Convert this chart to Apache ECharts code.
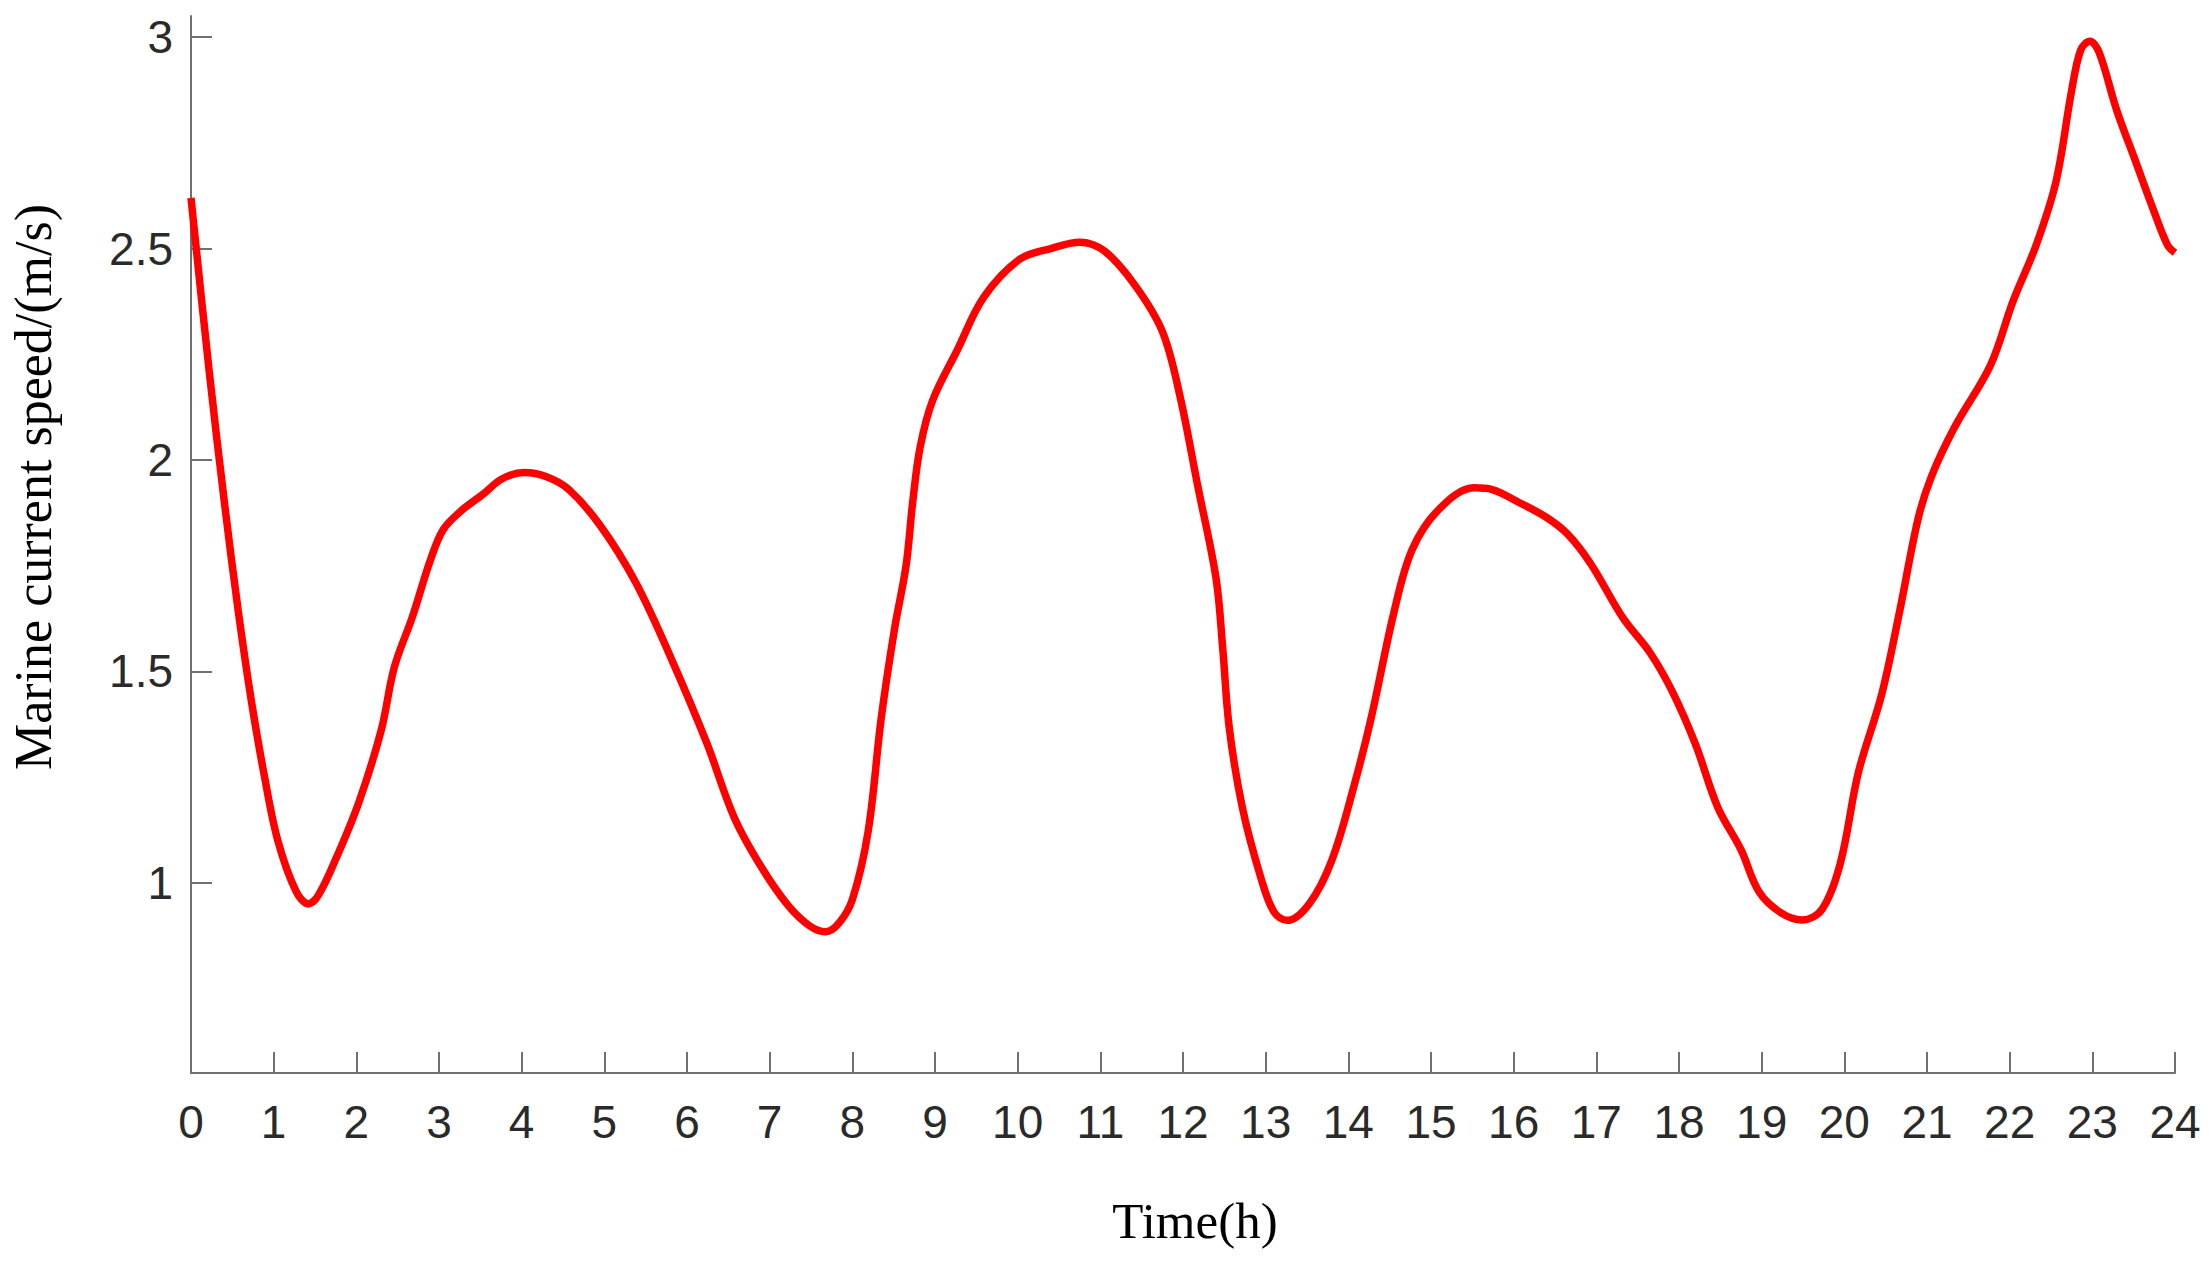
<!DOCTYPE html>
<html>
<head>
<meta charset="utf-8">
<script src="https://cdn.jsdelivr.net/npm/echarts@6/dist/echarts.min.js"></script>
<style>
html,body{margin:0;padding:0;background:#fff;}
#chart{width:2211px;height:1262px;}
</style>
</head>
<body>
<div id="chart"></div>
<script>
// Time (hours)
var timeH = [0.0,0.22,0.41,0.57,0.73,0.89,1.05,1.27,1.42,1.54,1.76,2.03,2.30,2.46,2.68,2.89,3.05,3.27,3.54,3.76,4.03,4.30,4.57,4.95,5.38,5.81,6.24,6.57,6.89,7.22,7.49,7.68,7.84,8.0,8.19,8.35,8.51,8.65,8.73,8.82,8.97,9.27,9.59,10.02,10.40,10.75,11.05,11.42,11.75,11.96,12.18,12.40,12.48,12.56,12.72,12.94,13.10,13.26,13.53,13.80,14.07,14.28,14.55,14.77,15.09,15.52,15.74,16.06,16.39,16.65,16.93,17.32,17.65,17.92,18.20,18.47,18.75,18.97,19.24,19.49,19.73,19.95,20.17,20.45,20.67,20.89,21.05,21.33,21.77,22.04,22.32,22.56,22.75,22.86,22.97,23.08,23.30,23.52,23.74,23.91,24.0];
// Marine current speed (m/s)
var speed = [2.62,2.21,1.89,1.645,1.43,1.25,1.10,0.98,0.95,0.97,1.06,1.19,1.36,1.51,1.63,1.76,1.835,1.88,1.92,1.955,1.97,1.96,1.93,1.845,1.71,1.53,1.33,1.155,1.04,0.947,0.897,0.884,0.905,0.96,1.12,1.39,1.60,1.75,1.90,2.03,2.14,2.26,2.385,2.474,2.50,2.515,2.494,2.413,2.304,2.154,1.937,1.72,1.556,1.366,1.176,1.013,0.931,0.911,0.951,1.053,1.23,1.393,1.638,1.787,1.882,1.934,1.93,1.90,1.865,1.825,1.755,1.627,1.544,1.452,1.327,1.178,1.078,0.978,0.928,0.912,0.937,1.045,1.261,1.444,1.643,1.859,1.959,2.076,2.225,2.375,2.508,2.658,2.874,2.97,2.99,2.965,2.824,2.708,2.591,2.508,2.49];
// Axis ticks
var yTicks = [1, 1.5, 2, 2.5, 3];
var xTitle = 'Time(h)';
var yTitle = 'Marine current speed/(m/s)';

var pts = timeH.map(function (t, i) { return [t, speed[i]]; });

var chart = echarts.init(document.getElementById('chart'), null, {renderer: 'svg'});
var axisCol = '#707070';
var labelCol = '#2a2a2a';
chart.setOption({
  animation: false,
  backgroundColor: '#fff',
  grid: {left: 191, right: 36, top: 16, bottom: 189, containLabel: false},
  xAxis: {
    type: 'value', min: 0, max: 24, interval: 1,
    axisLine: {show: true, onZero: false, lineStyle: {color: axisCol, width: 2}},
    axisTick: {show: true, inside: true, length: 21, lineStyle: {color: axisCol, width: 2}},
    axisLabel: {color: labelCol, fontSize: 46, fontFamily: 'Liberation Sans, Arial, sans-serif', margin: 26},
    splitLine: {show: false}
  },
  yAxis: {
    type: 'value', min: 0.55, max: 3.05,
    axisLine: {show: true, onZero: false, lineStyle: {color: axisCol, width: 2}},
    axisTick: {show: true, inside: true, length: 21, customValues: yTicks, lineStyle: {color: axisCol, width: 2}},
    axisLabel: {color: labelCol, fontSize: 46, fontFamily: 'Liberation Sans, Arial, sans-serif', margin: 18, customValues: yTicks,
      formatter: function (v) { return String(v); }},
    splitLine: {show: false}
  },
  graphic: [
    {type: 'text', x: 33, y: 487, rotation: Math.PI / 2,
      style: {text: yTitle, fill: '#000', font: '52px "Liberation Serif", "Times New Roman", serif', align: 'center', verticalAlign: 'middle'}},
    {type: 'text', x: 1195, y: 1221,
      style: {text: xTitle, fill: '#000', font: '51px "Liberation Serif", "Times New Roman", serif', align: 'center', verticalAlign: 'middle'}}
  ],
  series: [{
    type: 'line', data: pts, smooth: 0.35, showSymbol: false, symbol: 'none',
    lineStyle: {color: '#ff0000', width: 7.5}, clip: false
  }]
});
</script>
</body>
</html>
